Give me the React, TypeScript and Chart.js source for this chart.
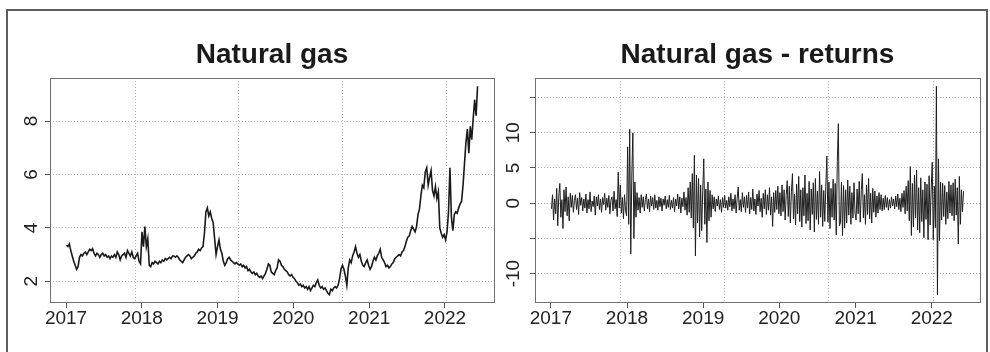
import React, { useEffect, useRef } from 'react';
import { Chart, registerables } from 'chart.js';

Chart.register(...registerables);

const FONT = "'Liberation Sans', Arial, Helvetica, sans-serif";
Chart.defaults.font.family = FONT;

// Time axis is in days since 1970-01-01
const PRICE_START_DAY = 17169; // 2017-01-03
const PRICE_STEP_DAYS = 7;
const RETURN_START_DAY = 17170; // 2017-01-04
const RETURN_STEP_DAYS = 5;

const YEAR_TICK_DAYS = [17167, 17532, 17897, 18262, 18628, 18993];
const YEAR_LABELS = ['2017', '2018', '2019', '2020', '2021', '2022'];
const GRID_DAYS = [17500, 18000, 18500, 19000];

const PRICE_TICKS = [2, 4, 6, 8];
const PRICE_LABELS = [2, 4, 6, 8];
const RETURN_TICKS = [-10, -5, 0, 5, 10, 15];
const RETURN_LABELS = [-10, 0, 5, 10];

// Natural gas price, weekly readings
const price2017 = [
  3.35, 3.3, 3.4, 3.15, 2.95, 2.75, 2.6, 2.45, 2.55, 2.9,
  3.0, 2.95, 3.05, 3.1, 3.0, 3.1, 3.2, 3.15, 3.22, 3.05,
  2.95, 3.05, 3.0, 2.9, 3.0, 3.05, 2.95, 3.0, 2.9, 2.95,
  2.85, 2.95, 2.9, 3.0, 2.9, 3.1, 3.0, 2.8, 2.95, 3.0,
  3.05, 2.9, 3.15, 3.05, 2.95, 3.1, 2.9, 2.85, 2.95, 3.05,
  2.75, 2.65,
];
const price2018 = [
  3.85, 3.3, 4.05, 3.3, 3.6, 2.6, 2.55, 2.7, 2.65, 2.75,
  2.7, 2.65, 2.75, 2.7, 2.8, 2.75, 2.85, 2.8, 2.85, 2.9,
  2.85, 2.95, 2.95, 2.9, 2.95, 2.9, 2.8, 2.75, 2.7, 2.8,
  2.9, 2.95, 3.0, 2.95, 2.85, 2.9, 2.95, 3.05, 3.1, 3.2,
  3.15, 3.25, 3.3, 3.8, 4.6, 4.75, 4.45, 4.6, 4.35, 4.2,
  3.6, 3.0, 3.3,
];
const price2019 = [
  3.55, 3.2, 3.05, 2.75, 2.6, 2.7, 2.85, 2.9, 2.8, 2.75,
  2.7, 2.65, 2.7, 2.65, 2.6, 2.65, 2.55, 2.6, 2.5, 2.55,
  2.4, 2.45, 2.35, 2.3, 2.35, 2.25, 2.3, 2.2, 2.15, 2.2,
  2.1, 2.2, 2.3, 2.45, 2.65, 2.6, 2.35, 2.3, 2.25, 2.4,
  2.5, 2.8, 2.75, 2.6, 2.55, 2.45, 2.4, 2.35, 2.25, 2.2,
  2.25, 2.15,
];
const price2020 = [
  2.1, 2.0, 1.95, 1.85, 1.9, 1.8, 1.85, 1.75, 1.8, 1.7,
  1.8, 1.65, 1.75, 1.85, 1.8, 1.95, 2.05, 1.85, 1.75, 1.8,
  1.7, 1.75, 1.65, 1.55, 1.5, 1.7, 1.65, 1.75, 1.8, 1.75,
  1.85, 2.1, 2.45, 2.6, 2.45, 2.2, 1.85, 2.5, 2.8, 2.7,
  2.95, 3.1, 3.3, 3.05, 2.9, 3.0, 2.75, 2.6, 2.55, 2.7,
  2.8, 2.6, 2.45,
];
const price2021 = [
  2.55, 2.75, 2.9, 2.8, 2.95, 3.05, 3.2, 2.9, 2.8, 2.7,
  2.55, 2.6, 2.5, 2.55, 2.65, 2.7, 2.85, 2.9, 2.95, 3.0,
  2.95, 3.1, 3.15, 3.3, 3.5, 3.65, 3.7, 3.9, 4.05, 3.95,
  3.85, 4.05, 4.5, 4.7, 5.2, 5.6, 5.5, 6.1, 6.25, 5.6,
  5.9, 6.15, 5.4, 5.2, 5.55, 5.1, 5.35, 4.0, 3.8, 3.65,
  3.75, 3.55,
];
const price2022 = [
  3.85, 4.6, 6.25, 4.4, 3.9, 4.5, 4.6, 4.55, 4.75, 4.9,
  5.0, 5.6, 6.4, 7.2, 7.7, 6.8, 7.8, 7.3, 8.1, 8.8,
  8.2, 9.3,
];

// Natural gas returns (%), readings every 5 days
const ret2017 = [
  -0.8, 1.2, -2.4, 0.6, -1.5, 2.1, -3.2, 1.0, 2.8, -2.0, 0.5, -3.6, 1.9, -1.2, 2.3, -1.8, 0.9, -2.5,
  1.4, -0.6, 1.1, -1.3, 0.4, 1.2, -0.9, 0.7, -1.6, 1.5, -0.3, 0.8, -1.1, 0.6, -0.7, 1.3, -1.4, 0.5,
  -0.8, 1.6, -1.2, 0.3, -0.5, 1.0, -1.7, 0.9, -0.4, 1.2, -0.9, 0.6, -1.3, 0.8, -0.2, 1.4, -1.0, 0.7,
  -0.6, 1.1, -1.5, 0.4, 0.9, -1.1, 1.7, -0.8, 0.5, -1.9, 4.4, -0.7, 2.6, -1.4, 0.8, -2.2, 1.2, -1.0, -1.8,
];
const ret2018 = [
  8.0, -3.0, 10.5, -7.2, 4.0, 10.0, -5.0, 3.0, -2.0, 1.5,
  -1.0, 0.8, -1.4, 1.2, -0.6, 0.9, -1.1, 0.5, 1.3, -0.8, 0.6, -1.2, 1.0, -0.4, 0.8, -0.9,
  1.2, -0.7, 0.4, -1.0, 0.9, -0.5, 0.7, -1.1, 0.6, -0.3, 1.0, -0.8, 0.5, -0.6, 1.1, -0.9,
  0.4, -0.7, 0.8, -1.2, 0.6, -0.4, 1.3, -0.8, 0.9, -1.4, 0.7, -0.5, 1.6, -1.0, 0.8, -1.7,
  2.2, -1.3, 3.0, -2.1, 4.2, -3.5, 6.8, -7.5, 4.0, -2.8, 3.5, -4.8, 2.6, -3.9, 1.8,
];
const ret2019 = [
  6.3, -3.0, 2.0, -5.6, 3.0, -2.5, 1.8, -2.0, 1.2, -0.8,
  0.9, -1.2, 0.6, -0.4, 1.0, -0.9, 0.5, -1.3, 0.8, -0.6, 1.1, -0.7, 0.4, -1.0, 0.9, -0.5,
  1.4, -1.1, 0.6, -0.8, 1.2, -1.4, 0.7, 2.3, -1.0, 0.5, -1.2, 1.5, -0.6, 0.9, -1.3, 1.1,
  -0.7, 1.6, -1.5, 0.8, -0.9, 2.0, -1.1, 0.6, -1.6, 1.3, -0.4, 1.8, -1.2, 0.7, -2.0, 1.4,
  -0.8, 1.9, -1.6, 1.2, -1.0, 2.2, -1.7, 0.9, -3.3, 1.5, -1.3, 1.8, -0.9, 2.4, -1.5,
];
const ret2020 = [
  1.5, -1.8, 2.6, -1.2, 1.9, -2.4, 1.1, 3.2, -1.9, 2.4,
  -2.8, 1.6, 4.2, -2.2, 1.3, -3.1, 2.7, -1.5, 3.8, -2.6, 1.9, -3.4, 2.2, -1.8, 4.0, -2.9,
  1.4, -2.5, 3.1, -3.8, 2.0, -1.6, 2.9, -4.1, 3.5, -2.3, 1.7, -3.0, 4.5, -2.0, 2.6, -3.3,
  1.8, -2.6, 2.4, 6.7, -2.7, 3.0, -3.6, 2.1, -2.0, 3.4, -2.4, 2.8, -4.5, 5.9, 11.3, -3.2,
  -2.8, 3.0, -4.6, 2.5, -3.5, 1.9, -2.8, 3.3, -1.7, 2.4, -3.0, 1.5, -2.1, 2.9, -1.4,
];
const ret2021 = [
  -2.4, 2.0, -1.5, 3.1, -2.7, 1.8, 4.2, -2.1, 1.2, -3.0,
  2.6, -1.6, 3.5, -2.2, 1.4, -2.8, 2.1, -1.3, 1.7, -2.0, 1.0, -1.4, 1.5, -0.9, 1.2, -1.1,
  0.7, -0.9, 1.1, -0.6, 0.8, -1.0, 0.5, -0.7, 0.9, -0.4, 0.6, -0.8, 1.0, -0.5, 1.3, -0.9,
  0.7, -1.2, 1.4, -0.6, 1.8, -1.5, 2.4, -1.1, 3.2, -2.5, 5.2, -4.6, 2.8, -3.4, 4.0, -2.1,
  4.7, -3.8, 2.2, -4.2, 3.6, -2.6, 1.9, -4.9, 3.0, -2.3, 2.7, -5.2, 3.9, -3.1, 2.0,
];
const ret2022 = [
  5.8, -5.2, 2.4, -3.5, 16.6, -13.0, 6.3, -5.3, 3.0, -2.4,
  2.8, -1.9, 2.5, -3.0, 1.6, -2.2, 3.1, -1.4, 2.6, -1.8,
  2.9, -2.5, 3.4, -1.7, 2.2, -5.8, 3.8, -3.0, 1.9, -1.2, 1.7,
];

const PRICES = [...price2017, ...price2018, ...price2019, ...price2020, ...price2021, ...price2022];
const RETURNS = [...ret2017, ...ret2018, ...ret2019, ...ret2020, ...ret2021, ...ret2022];
const PRICE_DAYS = PRICES.map((_, i) => PRICE_START_DAY + i * PRICE_STEP_DAYS);
const RETURN_DAYS = RETURNS.map((_, i) => RETURN_START_DAY + i * RETURN_STEP_DAYS);

// R-style axis extent: data range widened by 4% on each side
function rRange(vals: number[]): [number, number] {
  let lo = Infinity, hi = -Infinity;
  for (const v of vals) { if (v < lo) lo = v; if (v > hi) hi = v; }
  const pad = (hi - lo) * 0.04;
  return [lo - pad, hi + pad];
}

const GRID_COLOR = '#b0b0b0';
const TICK_COLOR = '#555555';
const TEXT_COLOR = '#222222';

const boxPlugin = {
  id: 'rbox',
  afterDraw(chart: any) {
    const { ctx, chartArea: a } = chart;
    ctx.save();
    ctx.strokeStyle = '#707070';
    ctx.lineWidth = 1;
    ctx.strokeRect(Math.round(a.left) + 0.5, Math.round(a.top) + 0.5,
      Math.round(a.right - a.left), Math.round(a.bottom - a.top) - 1);
    ctx.restore();
  },
};

interface PanelSpec {
  title: string;
  days: number[];
  values: number[];
  yTicks: number[];
  yLabels: number[];
  yAxisWidth: number;
  yLabelPad: number;
  rightPad: number;
  lineWidth: number;
  lineColor: string;
}

function makeConfig(p: PanelSpec): any {
  const [xMin, xMax] = rRange(p.days);
  const [yMin, yMax] = rRange(p.values);
  return {
    type: 'line',
    data: {
      datasets: [{
        data: p.days.map((d, i) => ({ x: d, y: p.values[i] })),
        borderColor: p.lineColor,
        borderWidth: p.lineWidth,
        pointRadius: 0,
        tension: 0,
        fill: false,
        xAxisID: 'x',
        yAxisID: 'y',
      }],
    },
    options: {
      responsive: false,
      animation: false,
      devicePixelRatio: 1,
      events: [],
      layout: { padding: { left: 0, right: p.rightPad, top: 0, bottom: 19 } },
      plugins: {
        legend: { display: false },
        tooltip: { enabled: false },
        title: {
          display: true,
          text: p.title,
          fullSize: false,
          align: 'center',
          color: '#1a1a1a',
          font: { family: FONT, size: 28, weight: 'bold', lineHeight: 1.2 },
          padding: { top: 38.4, bottom: 6 },
        },
      },
      scales: {
        x: {
          type: 'linear',
          position: 'bottom',
          min: xMin,
          max: xMax,
          afterBuildTicks: (s: any) => { s.ticks = YEAR_TICK_DAYS.map((v) => ({ value: v })); },
          afterFit: (s: any) => { s.height = 30; },
          grid: { drawOnChartArea: false, drawTicks: true, tickLength: 5, tickColor: TICK_COLOR, tickWidth: 1, color: GRID_COLOR },
          border: { display: false },
          ticks: {
            autoSkip: false, maxRotation: 0, minRotation: 0, padding: 1, color: TEXT_COLOR,
            font: { family: FONT, size: 19, lineHeight: 1 },
            callback: (_v: any, i: number) => YEAR_LABELS[i],
          },
        },
        xg: {
          type: 'linear',
          position: 'bottom',
          min: xMin,
          max: xMax,
          afterBuildTicks: (s: any) => { s.ticks = GRID_DAYS.map((v) => ({ value: v })); },
          afterFit: (s: any) => { s.height = 0; },
          grid: { drawOnChartArea: true, drawTicks: false, color: GRID_COLOR, lineWidth: 1 },
          border: { display: false, dash: [1, 2] },
          ticks: { display: false },
        },
        y: {
          type: 'linear',
          position: 'left',
          min: yMin,
          max: yMax,
          afterBuildTicks: (s: any) => { s.ticks = p.yTicks.map((v) => ({ value: v })); },
          afterFit: (s: any) => { s.width = p.yAxisWidth; },
          grid: { drawOnChartArea: true, drawTicks: true, tickLength: 5, color: GRID_COLOR, tickColor: TICK_COLOR, lineWidth: 1, tickWidth: 1 },
          border: { display: false, dash: [1, 2] },
          ticks: {
            autoSkip: false, minRotation: 90, maxRotation: 90, crossAlign: 'center',
            padding: p.yLabelPad, color: TEXT_COLOR,
            font: { family: FONT, size: 19, lineHeight: 1 },
            callback: (v: any) => (p.yLabels.includes(Number(v)) ? String(v) : ''),
          },
        },
      },
    },
    plugins: [boxPlugin],
  };
}

function Panel({ spec, left }: { spec: PanelSpec; left: number }) {
  const ref = useRef<HTMLCanvasElement | null>(null);
  useEffect(() => {
    if (!ref.current) return;
    const chart = new Chart(ref.current, makeConfig(spec));
    return () => chart.destroy();
  }, []);
  return (
    <canvas
      ref={ref}
      width={495}
      height={352}
      style={{ position: 'absolute', left, top: 0, width: 495, height: 352 }}
    />
  );
}

const leftSpec: PanelSpec = {
  title: 'Natural gas',
  days: PRICE_DAYS,
  values: PRICES,
  yTicks: PRICE_TICKS,
  yLabels: PRICE_LABELS,
  yAxisWidth: 50,
  yLabelPad: 8,
  rightPad: 1,
  lineWidth: 1.6,
  lineColor: '#1a1a1a',
};

const rightSpec: PanelSpec = {
  title: 'Natural gas - returns',
  days: RETURN_DAYS,
  values: RETURNS,
  yTicks: RETURN_TICKS,
  yLabels: RETURN_LABELS,
  yAxisWidth: 40,
  yLabelPad: 3,
  rightPad: 10,
  lineWidth: 1,
  lineColor: '#1e1e1e',
};

export default function App() {
  return (
    <div style={{ position: 'absolute', left: 0, top: 0, width: 990, height: 352, overflow: 'hidden', background: '#ffffff' }}>
      <Panel spec={leftSpec} left={0} />
      <Panel spec={rightSpec} left={495} />
      <div
        style={{
          position: 'absolute', left: 6, top: 9, width: 982, height: 400,
          border: '2px solid #5e5e5e', boxSizing: 'border-box', pointerEvents: 'none',
        }}
      />
    </div>
  );
}
